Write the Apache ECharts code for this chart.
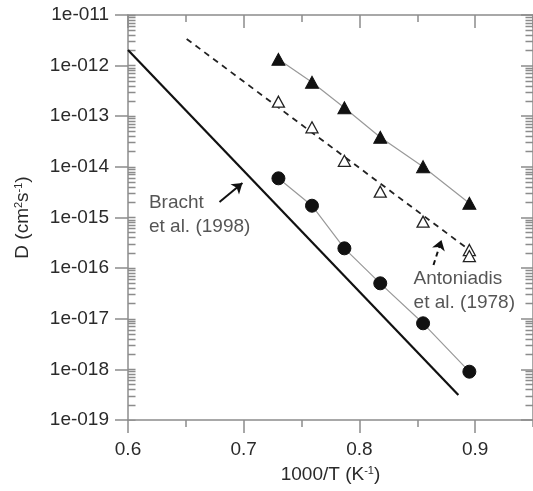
<!DOCTYPE html>
<html>
<head>
<meta charset="utf-8">
<script src="https://cdn.jsdelivr.net/npm/echarts@6/dist/echarts.min.js"></script>
<style>
html,body{margin:0;padding:0;background:#fff;}
#chart{width:533px;height:491px;}
</style>
</head>
<body>
<div id="chart"></div>
<script>
// ---- data ----
const xTickValues = [0.6, 0.7, 0.8, 0.9];
const yDecadeExponents = [-19, -18, -17, -16, -15, -14, -13, -12, -11];
const minorMultipliers = [2, 3, 4, 5, 6, 7, 8, 9];

const filledTriX = [0.730, 0.759, 0.787, 0.818, 0.855, 0.895];
const filledTriD = [1.33e-12, 4.69e-13, 1.47e-13, 3.84e-14, 1.01e-14, 1.91e-15];

const openTriX = [0.730, 0.759, 0.787, 0.818, 0.855, 0.895, 0.895];
const openTriD = [1.94e-13, 6.05e-14, 1.32e-14, 3.24e-15, 8.26e-16, 2.28e-16, 1.73e-16];

const circleX = [0.730, 0.759, 0.787, 0.818, 0.855, 0.895];
const circleD = [5.94e-15, 1.71e-15, 2.46e-16, 5.01e-17, 8.13e-18, 9.0e-19];

const brachtX = [0.6, 0.8855];
const brachtD = [2.04e-12, 3.12e-19];

const antoniadisX = [0.6507, 0.895];
const antoniadisD = [3.36e-12, 2.28e-16];

const brachtArrowX = [0.6791, 0.6989];
const brachtArrowD = [2.02e-15, 4.80e-15];
const antArrowX = [0.8640, 0.8709];
const antArrowD = [1.15e-16, 3.60e-16];

const annotX = [0.6181, 0.8468];
const annotD = [1.15e-15, 3.53e-17];
const annotText = ['Bracht\net al. (1998)', 'Antoniadis\net al. (1978)'];

// ---- helpers ----
const X_MIN = 0.6, X_MAX = 0.95;
const INNER_TICK = 0.0065; // inner tick length in x-axis units
const pairs = (xs, ys) => xs.map((x, i) => [x, ys[i]]);
const minorD = [];
yDecadeExponents.slice(0, -1).forEach(e => {
  minorMultipliers.forEach(k => minorD.push(k * Math.pow(10, e)));
});
const decadeD = yDecadeExponents.map(e => Math.pow(10, e));

const FONT = 'Liberation Sans, Arial, sans-serif';
const TXT = '#2a2a2a';
const AX = '#8c8c8c';

const chart = echarts.init(document.getElementById('chart'), null, {renderer: 'canvas'});

const baseX = {type: 'value', min: X_MIN, max: X_MAX, gridIndex: 0, splitLine: {show: false}};

const innerTickSegments = minorD.concat(decadeD).map(v => ({coords: [[X_MIN, v], [X_MIN + INNER_TICK, v]]}))
  .concat(minorD.map(v => ({coords: [[X_MAX, v], [X_MAX - INNER_TICK, v]]})));

const option = {
  animation: false,
  backgroundColor: '#fff',
  grid: {left: 128, top: 15, width: 407, height: 405},
  xAxis: [
    Object.assign({}, baseX, {
      position: 'bottom', interval: 0.1,
      axisLine: {show: true, lineStyle: {color: AX, width: 1.5}},
      axisTick: {show: true, inside: false, length: 13, lineStyle: {color: AX, width: 1.5}},
      axisLabel: {show: true, margin: 20, fontSize: 19, fontFamily: FONT, color: TXT, showMaxLabel: false,
        formatter: v => (xTickValues.some(t => Math.abs(t - v) < 1e-9) ? String(Math.round(v * 10) / 10) : '')},
      name: '1000/T (K{s|-1})', nameLocation: 'middle', nameGap: 45,
      nameTextStyle: {fontSize: 19, fontFamily: FONT, color: TXT,
        rich: {s: {fontSize: 11, fontFamily: FONT, color: TXT, verticalAlign: 'top', lineHeight: 14}}}
    }),
    Object.assign({}, baseX, {
      position: 'bottom', interval: 0.05,
      axisLine: {show: false},
      axisTick: {show: true, inside: false, length: 7, lineStyle: {color: AX, width: 1.5}},
      axisLabel: {show: false}
    }),
    Object.assign({}, baseX, {
      position: 'top', interval: 0.1,
      axisLine: {show: true, lineStyle: {color: AX, width: 1.5}},
      axisTick: {show: true, inside: true, length: 13, lineStyle: {color: AX, width: 1.5}},
      axisLabel: {show: false}
    }),
    Object.assign({}, baseX, {
      position: 'top', interval: 0.05,
      axisLine: {show: false},
      axisTick: {show: true, inside: true, length: 7, lineStyle: {color: AX, width: 1.5}},
      axisLabel: {show: false}
    })
  ],
  yAxis: [
    {
      type: 'log', logBase: 10, min: 1e-19, max: 1e-11, interval: 1, gridIndex: 0, position: 'left',
      splitLine: {show: false},
      axisLine: {show: true, lineStyle: {color: AX, width: 1.5}},
      axisTick: {show: true, inside: false, length: 13, lineStyle: {color: AX, width: 1.5}},
      axisLabel: {show: true, margin: 19, fontSize: 19, fontFamily: FONT, color: TXT,
        formatter: v => {
          const e = Math.round(Math.log10(v));
          return '1e-' + String(-e).padStart(3, '0');
        }},
      name: 'D (cm{s|2}s{s|-1})', nameLocation: 'middle', nameGap: 96, nameRotate: 90,
      nameTextStyle: {fontSize: 19, fontFamily: FONT, color: TXT,
        rich: {s: {fontSize: 11, fontFamily: FONT, color: TXT, verticalAlign: 'top', lineHeight: 14}}}
    },
    {
      type: 'log', logBase: 10, min: 1e-19, max: 1e-11, interval: 1, gridIndex: 0, position: 'right',
      splitLine: {show: false},
      axisLine: {show: true, lineStyle: {color: AX, width: 1.5}},
      axisTick: {show: true, inside: true, length: 12, lineStyle: {color: AX, width: 1.5}},
      axisLabel: {show: false}
    }
  ],
  series: [
    {
      name: 'inner ticks', type: 'lines', coordinateSystem: 'cartesian2d', xAxisIndex: 0, yAxisIndex: 0,
      symbol: ['none', 'none'], silent: true, z: 1,
      lineStyle: {color: AX, width: 1.3, opacity: 1, curveness: 0},
      data: innerTickSegments
    },
    {
      name: 'Bracht', type: 'line', xAxisIndex: 0, yAxisIndex: 0,
      data: pairs(brachtX, brachtD), showSymbol: false, symbol: 'none',
      lineStyle: {color: '#111', width: 2.2}, z: 2
    },
    {
      name: 'Antoniadis', type: 'line', xAxisIndex: 0, yAxisIndex: 0,
      data: pairs(antoniadisX, antoniadisD), showSymbol: false, symbol: 'none',
      lineStyle: {color: '#222', width: 1.8, type: [6, 5]}, z: 2
    },
    {
      name: 'filled triangles', type: 'line', xAxisIndex: 0, yAxisIndex: 0,
      data: pairs(filledTriX, filledTriD), symbol: 'triangle', symbolSize: [13, 12], showAllSymbol: true,
      itemStyle: {color: '#111', borderColor: '#111'}, lineStyle: {color: '#999', width: 1.2}, z: 3
    },
    {
      name: 'open triangles', type: 'scatter', xAxisIndex: 0, yAxisIndex: 0,
      data: pairs(openTriX, openTriD), symbol: 'triangle', symbolSize: [12, 11],
      itemStyle: {color: '#fff', borderColor: '#222', borderWidth: 1.3, opacity: 1}, z: 4
    },
    {
      name: 'circles', type: 'line', xAxisIndex: 0, yAxisIndex: 0,
      data: pairs(circleX, circleD), symbol: 'circle', symbolSize: 13, showAllSymbol: true,
      itemStyle: {color: '#111', borderColor: '#111'}, lineStyle: {color: '#999', width: 1.2}, z: 3
    },
    {
      name: 'arrows', type: 'lines', coordinateSystem: 'cartesian2d', xAxisIndex: 0, yAxisIndex: 0,
      symbol: ['none', 'arrow'], symbolSize: 10,
      lineStyle: {color: '#111', width: 2, opacity: 1, curveness: 0},
      data: [
        {coords: pairs(brachtArrowX, brachtArrowD), lineStyle: {color: '#111', width: 2, type: 'solid', opacity: 1}},
        {coords: pairs(antArrowX, antArrowD), lineStyle: {color: '#111', width: 2, type: [5, 4], opacity: 1}}
      ], z: 5
    },
    {
      name: 'annotations', type: 'scatter', xAxisIndex: 0, yAxisIndex: 0,
      data: pairs(annotX, annotD).map((p, i) => ({value: p, label: {formatter: annotText[i]}})),
      symbolSize: 0, silent: true,
      label: {show: true, position: 'right', distance: 0, align: 'left', verticalAlign: 'middle',
        fontSize: 19, lineHeight: 24, fontFamily: FONT, color: TXT}, z: 6
    }
  ]
};
chart.setOption(option);
</script>
</body>
</html>
